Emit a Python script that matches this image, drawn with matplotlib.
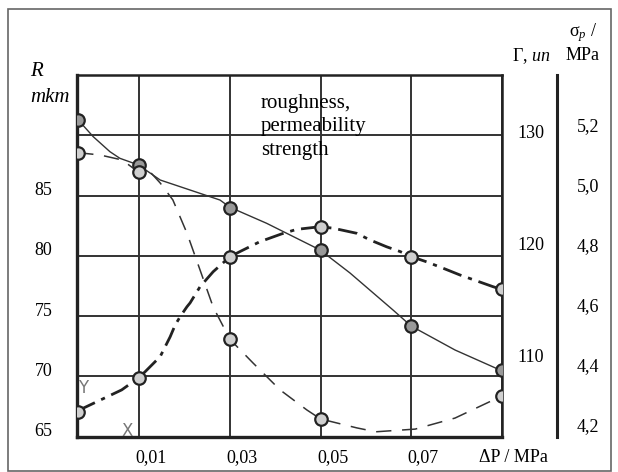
import matplotlib
matplotlib.use("Agg")
import matplotlib.pyplot as plt
from matplotlib.transforms import ScaledTranslation
from matplotlib.patches import Rectangle

# ---------------- data ----------------
# x positions of measurement points (ΔP, MPa); first point sits on the left edge
x_pts = [-0.0035, 0.01, 0.03, 0.05, 0.07, 0.09]

# roughness R, mkm (solid thin line)
rough_pts = [91.3, 87.5, 84.0, 80.5, 74.2, 70.5]
rough_curve_x = [-0.0035, -0.0002, 0.0035, 0.0057, 0.0098, 0.0146, 0.0278, 0.0300,
                 0.0381, 0.0499, 0.0565, 0.0660, 0.0700, 0.0797, 0.0900]
rough_curve_y = [91.27, 89.89, 88.64, 88.09, 87.54, 86.29, 84.63, 84.03,
                 82.70, 80.49, 78.58, 75.51, 74.18, 72.19, 70.47]

# permeability Γ, un (thin dashed line)
perm_x_pts = [-0.0035, 0.01, 0.03, 0.05, 0.09]
perm_pts = [128.12, 126.42, 111.41, 104.28, 106.33]
perm_curve_x = [-0.0035, 0.0013, 0.0062, 0.0097, 0.0124, 0.0146, 0.0174, 0.0205,
                0.0234, 0.0263, 0.0300, 0.0351, 0.0411, 0.0470, 0.0500, 0.0580,
                0.0622, 0.0709, 0.0797, 0.0900]
perm_curve_y = [128.12, 127.92, 127.47, 126.42, 126.39, 125.41, 123.89, 120.93,
                117.62, 114.30, 111.41, 109.29, 106.87, 105.08, 104.28, 103.48,
                103.13, 103.37, 104.36, 106.33]

# strength σp, MPa (heavy dash-dot line)
str_pts = [4.242, 4.358, 4.761, 4.861, 4.761, 4.652]
str_curve_x = [-0.0035, -0.0024, 0.0061, 0.0099, 0.0113, 0.0146, 0.0168, 0.0179,
               0.0190, 0.0205, 0.0212, 0.0234, 0.0263, 0.0300, 0.0322, 0.0366,
               0.0414, 0.0447, 0.0499, 0.0528, 0.0580, 0.0609, 0.0646, 0.0676,
               0.0701, 0.0734, 0.0770, 0.0808, 0.0881, 0.0900]
str_curve_y = [4.242, 4.256, 4.317, 4.358, 4.378, 4.428, 4.494, 4.533,
               4.561, 4.594, 4.607, 4.661, 4.711, 4.761, 4.778, 4.811,
               4.837, 4.852, 4.861, 4.856, 4.839, 4.817, 4.794, 4.778,
               4.761, 4.744, 4.723, 4.700, 4.661, 4.652]

x_ticks = [0.01, 0.03, 0.05, 0.07, 0.09]
x_tick_labels = ["0,01", "0,03", "0,05", "0,07", "ΔP / MPa"]
r_grid = [65, 70, 75, 80, 85, 90, 95]
r_ticks = [65, 70, 75, 80, 85]
g_ticks = [110, 120, 130]
s_ticks = [4.2, 4.4, 4.6, 4.8, 5.0, 5.2]
s_tick_labels = ["4,2", "4,4", "4,6", "4,8", "5,0", "5,2"]

# ---------------- figure ----------------
plt.rcParams['font.family'] = ['Liberation Serif', 'DejaVu Serif']
plt.rcParams['mathtext.fontset'] = 'custom'
plt.rcParams['mathtext.rm'] = 'Liberation Serif'
plt.rcParams['mathtext.it'] = 'Liberation Serif:italic'
W, H = 618, 472
fig = plt.figure(figsize=(W / 100, H / 100), dpi=100)

# outer frame
fig.patches.append(Rectangle((8 / W, 1 / H), (611 - 8) / W, (462) / H,
                             transform=fig.transFigure, fill=False,
                             edgecolor="#666666", linewidth=1.2))

L, R_, T, B = 77.3, 501.7, 75.0, 436.7
ax = fig.add_axes([L / W, 1 - B / H, (R_ - L) / W, (B - T) / H])
ax.set_xlim(-0.0037, 0.09)
ax.set_ylim(65, 95)

# grid
for xv in x_ticks:
    ax.axvline(xv, color="#333333", lw=1.4, zorder=1)
for yv in r_grid[1:-1]:
    ax.axhline(yv, color="#333333", lw=1.4, zorder=1)

for s in ["left", "bottom"]:
    ax.spines[s].set_linewidth(2.4)
for s in ["top", "right"]:
    ax.spines[s].set_linewidth(1.8)
for s in ax.spines.values():
    s.set_color("#222222")

ax.set_xticks(x_ticks)
ax.set_xticklabels(x_tick_labels, fontsize=13)
ax.set_yticks(r_ticks)
ax.set_yticklabels([str(v) for v in r_ticks], fontsize=13)
ax.tick_params(length=0)
ax.tick_params(axis="y", pad=18)
ax.tick_params(axis="x", pad=9)
for lab in ax.get_yticklabels():
    lab.set_transform(lab.get_transform() + ScaledTranslation(0, 7 / 100, fig.dpi_scale_trans))
for lab in ax.get_xticklabels():
    lab.set_transform(lab.get_transform() + ScaledTranslation(12 / 100, 0, fig.dpi_scale_trans))

# permeability axis (middle labels)
axg = ax.twinx()
axg.set_ylim(102.69, 135.08)
axg.set_yticks(g_ticks)
axg.set_yticklabels([str(v) for v in g_ticks], fontsize=13)
axg.tick_params(length=0, pad=11)
for s in axg.spines.values():
    s.set_visible(False)

# strength axis (outer)
axs = ax.twinx()
for k, s in axs.spines.items():
    s.set_visible(k == "right")
axs.spines["right"].set_position(("outward", 40))
axs.spines["right"].set_linewidth(2.2)
axs.spines["right"].set_color("#222222")
axs.set_ylim(4.161, 5.3667)
axs.set_yticks(s_ticks)
axs.set_yticklabels(s_tick_labels, fontsize=13)
axs.tick_params(length=0, pad=14)

mk = dict(marker="o", ms=9, mfc="#cfcfcf", mec="#222222", mew=1.6, ls="none", zorder=5)

# roughness
ax.plot(rough_curve_x, rough_curve_y, color="#333333", lw=1.0, zorder=3)
ax.plot(x_pts, rough_pts, **{**mk, "mfc": "#999999"})

# permeability
axg.plot(perm_curve_x, perm_curve_y, color="#333333", lw=1.1,
         linestyle=(0, (10, 7)), zorder=3)
axg.plot(perm_x_pts, perm_pts, **mk)

# strength
axs.plot(str_curve_x, str_curve_y, color="#222222", lw=2.0,
         linestyle=(0, (7, 2.5, 1.5, 2.5)), zorder=3)
axs.plot(x_pts, str_pts, **mk)

# texts
fig.text(30 / W, 1 - 72 / H, "R", fontsize=15, style="italic", va="center", ha="left")
fig.text(30 / W, 1 - 97 / H, "mkm", fontsize=15, style="italic", va="center", ha="left")
fig.text(261 / W, 1 - 127 / H, "roughness,\npermeability\nstrength", fontsize=15,
         va="center", ha="left", linespacing=1.3)
fig.text(531 / W, 1 - 56 / H, "Γ, $\\mathit{un}$", fontsize=13, va="center", ha="center")
fig.text(583 / W, 1 - 33 / H, "σ$_{\\mathit{p}}$ /", fontsize=13, va="center", ha="center")
fig.text(583 / W, 1 - 55 / H, "MPa", fontsize=13, va="center", ha="center")
fig.text(83 / W, 1 - 388 / H, "Y", fontsize=12, color="#777777", va="center",
         ha="center", family="DejaVu Sans")
fig.text(127 / W, 1 - 431 / H, "X", fontsize=12, color="#777777", va="center",
         ha="center", family="DejaVu Sans")

fig.savefig("out.png", dpi=100)
